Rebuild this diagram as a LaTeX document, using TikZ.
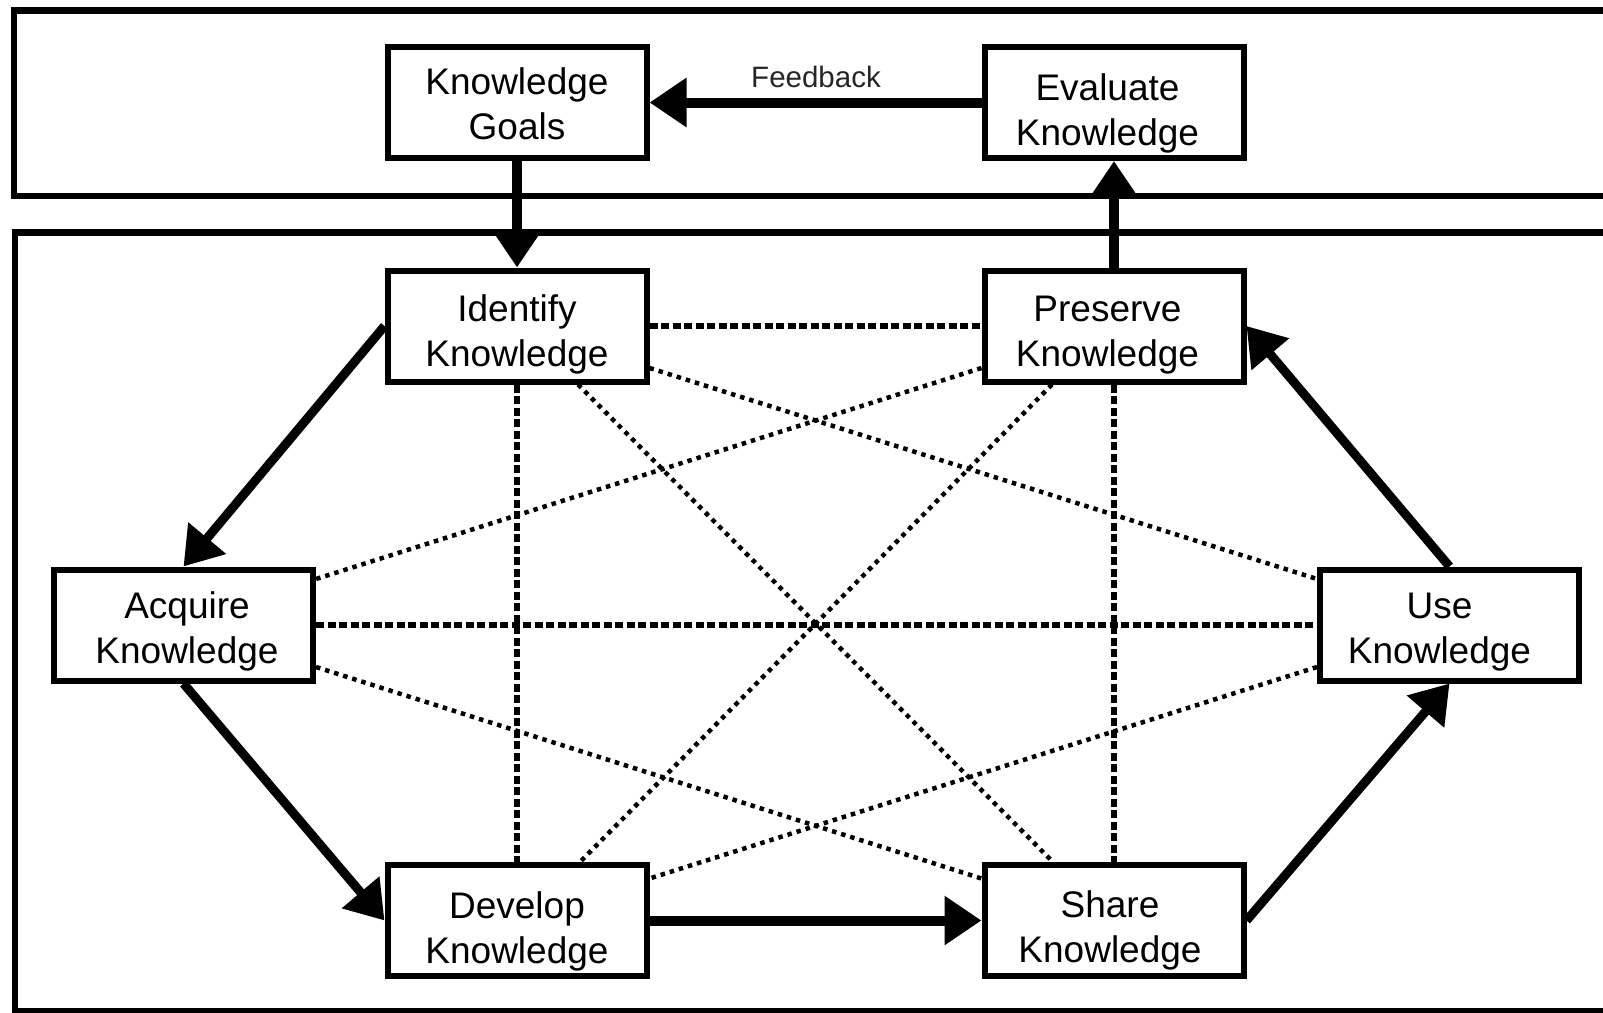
\documentclass[tikz,border=0pt]{standalone}
\usepackage{fontspec}
\setmainfont{Liberation Sans}
\usetikzlibrary{arrows.meta}

% shifts a centred line sideways by half the given amount
\newcommand\nudge[1]{\hspace*{#1}}

\begin{document}
\begin{tikzpicture}[x=1pt,y=-1pt,
  box/.style={draw, line width=6pt, fill=white, minimum width=259pt,
    minimum height=111pt, inner sep=0pt, align=center,
    text height=77pt, text depth=0pt,
    font=\fontsize{37}{45}\selectfont},
  flow/.style={line width=10pt, -{Triangle[length=37pt,width=47pt]}},
  dflow/.style={line width=9pt, -{Triangle[length=37pt,width=47pt]}},
  link/.style={line width=5.5pt, dash pattern=on 8pt off 3.5pt},
  dotlink/.style={line width=4.5pt, dash pattern=on 4.5pt off 5pt},
  frame/.style={line width=6.5pt}
]
\useasboundingbox (0,0) rectangle (1603,1012);
\clip (0,0) rectangle (1603,1012);

% two open-ended bands: evaluation layer and operative layer
\draw[frame] (14,10.5) rectangle (1660,196);
\draw[frame] (15,232.5) rectangle (1660,1011);

% building blocks
\node[box, text height=74pt] (goals) at (517,102.5) {Knowledge\\Goals};
\node[box, text height=86pt] (eval)  at (1114,102.5)
  {\nudge{-13pt}Evaluate\\\nudge{-13pt}Knowledge};
\node[box, text height=80pt] (ident) at (517,326) {Identify\\Knowledge};
\node[box, text height=80pt] (pres)  at (1114,326)
  {\nudge{-13pt}Preserve\\\nudge{-13pt}Knowledge};
\node[box] (acq)   at (183.5,625)
  {\nudge{7pt}Acquire\\\nudge{7pt}Knowledge};
\node[box] (use)   at (1449.5,625)
  {\nudge{-20pt}Use\\\nudge{-20pt}Knowledge};
\node[box, text height=86pt] (dev)   at (517,920.5) {Develop\\Knowledge};
\node[box, text height=84pt] (share) at (1114,920.5)
  {\nudge{-8pt}Share\\\nudge{-8pt}Knowledge};

% interrelations between the core processes
\draw[link] (ident.east) -- (pres.west);
\draw[link] (acq.east) -- (use.west);
\draw[link] (ident.south) -- (dev.north);
\draw[link] (pres.south) -- (share.north);
\draw[dotlink] ([xshift=61pt]ident.south) -- ([xshift=-61pt]share.north);
\draw[dotlink] ([xshift=-62pt]pres.south) -- ([xshift=63pt]dev.north);
\draw[dotlink] ([yshift=-42pt]ident.east) -- ([yshift=46pt]use.west);
\draw[dotlink] ([yshift=-42pt]pres.west) -- ([yshift=46pt]acq.east);
\draw[dotlink] ([yshift=-42pt]acq.east) -- ([yshift=42pt]share.west);
\draw[dotlink] ([yshift=-42pt]use.west) -- ([yshift=42pt]dev.east);

% main cycle
\draw[flow] (goals.south) -- (ident.north);
\draw[dflow] (ident.west) -- (acq.north);
\draw[dflow] (acq.south) -- (dev.west);
\draw[flow] (dev.east) -- (share.west);
\draw[dflow] (share.east) -- (use.south);
\draw[dflow] (use.north) -- (pres.east);
\draw[flow] (pres.north) -- (eval.south);
\draw[flow] (eval.west) -- (goals.east);

\node[anchor=base, text=black!85, font=\fontsize{29.5}{34}\selectfont]
  (fb) at (816,87) {Feedback};
\end{tikzpicture}
\end{document}
